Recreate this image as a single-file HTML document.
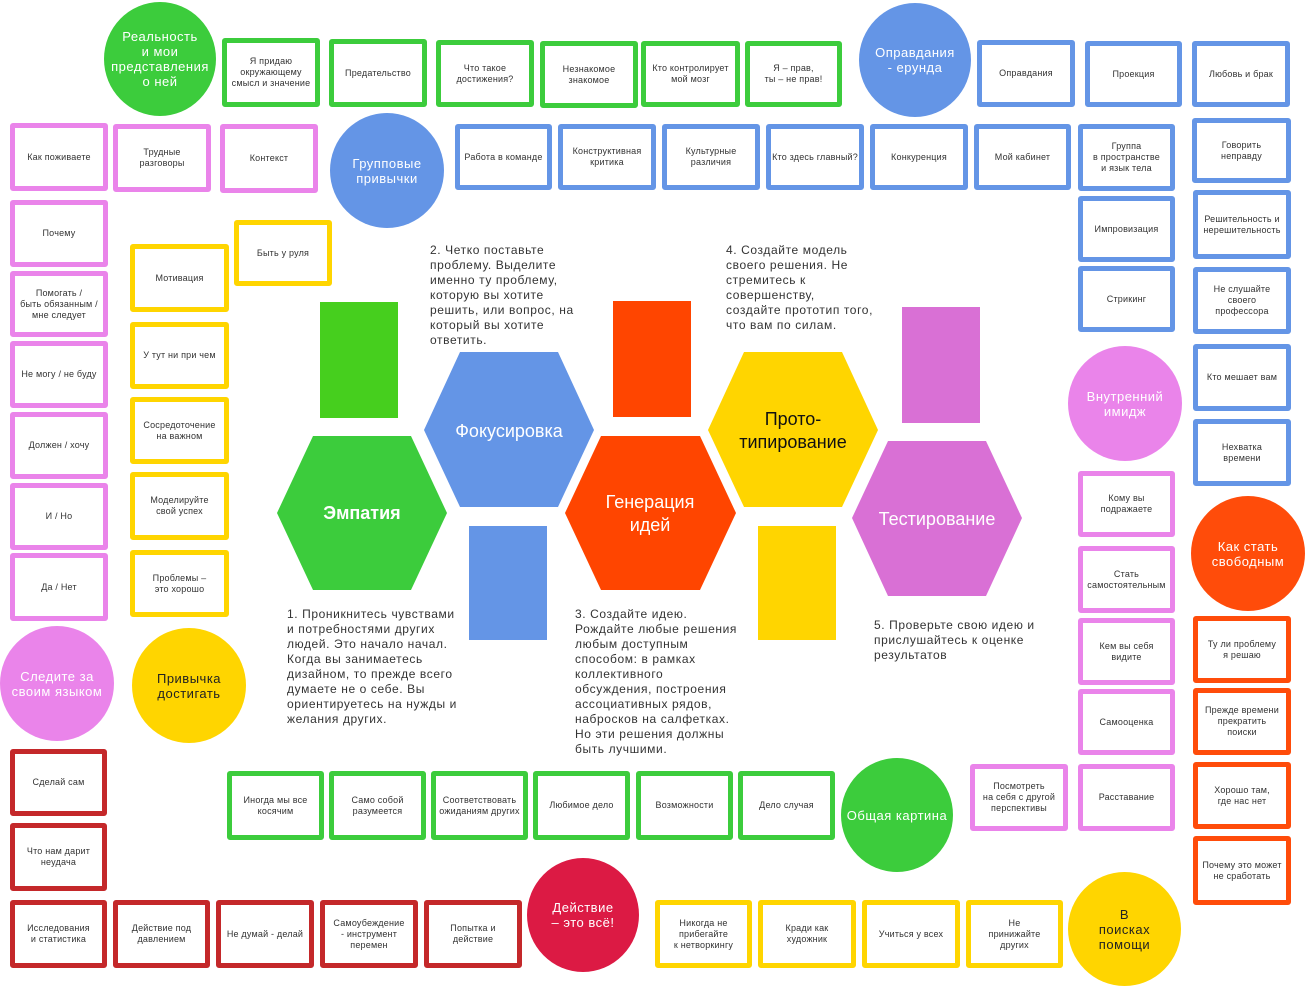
<!DOCTYPE html>
<html><head><meta charset="utf-8"><style>
body{margin:0;width:1305px;height:986px;position:relative;background:#fff;font-family:"Liberation Sans","DejaVu Sans",sans-serif;overflow:hidden}
.b{position:absolute;box-sizing:border-box;border:5px solid;border-radius:3px;display:flex;align-items:center;justify-content:center;text-align:center;font-size:9px;line-height:11px;color:#333;background:#fff;padding:0 1px;letter-spacing:0.2px}
.g{border-color:#3ccc3c}.p{border-color:#ea84ea}.u{border-color:#6495e6}.y{border-color:#ffd500}.r{border-color:#c4282a}.o{border-color:#ff4c0a}
.c{position:absolute;border-radius:50%;display:flex;align-items:center;justify-content:center;text-align:center;color:#fff;font-size:13px;line-height:15px;letter-spacing:0.5px}
.t{position:absolute;font-size:12px;line-height:15px;color:#333;letter-spacing:0.6px}
.rect{position:absolute}
</style></head><body>
<!-- circles -->
<div class="c" style="left:104px;top:2px;width:112px;height:114px;background:#3ccc3c">Реальность<br>и мои<br>представления<br>о ней</div>
<div class="c" style="left:859px;top:3px;width:112px;height:114px;background:#6495e6">Оправдания<br>- ерунда</div>
<div class="c" style="left:330px;top:113px;width:114px;height:115px;background:#6495e6">Групповые<br>привычки</div>
<div class="c" style="left:1068px;top:346px;width:114px;height:115px;background:#ea84ea">Внутренний<br>имидж</div>
<div class="c" style="left:1191px;top:496px;width:114px;height:115px;background:#ff4c0a">Как стать<br>свободным</div>
<div class="c" style="left:0px;top:626px;width:114px;height:115px;background:#ea84ea">Следите за<br>своим языком</div>
<div class="c" style="left:132px;top:628px;width:114px;height:115px;background:#ffd500;color:#222">Привычка<br>достигать</div>
<div class="c" style="left:841px;top:758px;width:112px;height:114px;background:#3ccc3c">Общая картина</div>
<div class="c" style="left:527px;top:858px;width:112px;height:114px;background:#dc1a44">Действие<br>– это всё!</div>
<div class="c" style="left:1068px;top:872px;width:113px;height:114px;background:#ffd500;color:#222">В<br>поисках<br>помощи</div>

<!-- top green -->
<div class="b g" style="left:222px;top:38px;width:98px;height:69px">Я придаю окружающему смысл и значение</div>
<div class="b g" style="left:329px;top:39px;width:98px;height:68px">Предательство</div>
<div class="b g" style="left:436px;top:40px;width:98px;height:67px">Что такое достижения?</div>
<div class="b g" style="left:540px;top:41px;width:98px;height:67px">Незнакомое знакомое</div>
<div class="b g" style="left:641px;top:41px;width:99px;height:66px">Кто контролирует мой мозг</div>
<div class="b g" style="left:745px;top:41px;width:97px;height:66px">Я – прав,<br>ты – не прав!</div>
<div class="b u" style="left:977px;top:40px;width:98px;height:67px">Оправдания</div>
<div class="b u" style="left:1085px;top:41px;width:97px;height:66px">Проекция</div>
<div class="b u" style="left:1192px;top:41px;width:98px;height:66px">Любовь и брак</div>

<!-- row 2 -->
<div class="b p" style="left:10px;top:123px;width:98px;height:68px">Как поживаете</div>
<div class="b p" style="left:113px;top:124px;width:98px;height:68px">Трудные<br>разговоры</div>
<div class="b p" style="left:220px;top:124px;width:98px;height:69px">Контекст</div>
<div class="b u" style="left:455px;top:124px;width:97px;height:66px">Работа в команде</div>
<div class="b u" style="left:558px;top:124px;width:98px;height:66px">Конструктивная критика</div>
<div class="b u" style="left:662px;top:124px;width:98px;height:66px">Культурные различия</div>
<div class="b u" style="left:766px;top:124px;width:98px;height:66px">Кто здесь главный?</div>
<div class="b u" style="left:870px;top:124px;width:98px;height:66px">Конкуренция</div>
<div class="b u" style="left:974px;top:124px;width:97px;height:66px">Мой кабинет</div>
<div class="b u" style="left:1078px;top:124px;width:97px;height:67px">Группа<br>в пространстве<br>и язык тела</div>
<div class="b u" style="left:1078px;top:196px;width:97px;height:66px">Импровизация</div>
<div class="b u" style="left:1078px;top:266px;width:97px;height:66px">Стрикинг</div>

<!-- right blue column -->
<div class="b u" style="left:1192px;top:118px;width:99px;height:65px">Говорить<br>неправду</div>
<div class="b u" style="left:1193px;top:190px;width:98px;height:69px">Решительность и нерешительность</div>
<div class="b u" style="left:1193px;top:267px;width:98px;height:67px">Не слушайте<br>своего<br>профессора</div>
<div class="b u" style="left:1193px;top:344px;width:98px;height:67px">Кто мешает вам</div>
<div class="b u" style="left:1193px;top:419px;width:98px;height:67px">Нехватка<br>времени</div>

<!-- right pink column -->
<div class="b p" style="left:1078px;top:471px;width:97px;height:66px">Кому вы подражаете</div>
<div class="b p" style="left:1078px;top:546px;width:97px;height:67px">Стать самостоятельным</div>
<div class="b p" style="left:1078px;top:618px;width:97px;height:67px">Кем вы себя видите</div>
<div class="b p" style="left:1078px;top:689px;width:97px;height:66px">Самооценка</div>
<div class="b p" style="left:1078px;top:764px;width:97px;height:67px">Расставание</div>
<div class="b p" style="left:970px;top:764px;width:98px;height:67px">Посмотреть<br>на себя с другой перспективы</div>

<!-- right orange -->
<div class="b o" style="left:1193px;top:616px;width:98px;height:67px">Ту ли проблему<br>я решаю</div>
<div class="b o" style="left:1193px;top:688px;width:98px;height:67px">Прежде времени прекратить<br>поиски</div>
<div class="b o" style="left:1193px;top:762px;width:98px;height:67px">Хорошо там,<br>где нас нет</div>
<div class="b o" style="left:1193px;top:836px;width:98px;height:69px">Почему это может не сработать</div>

<!-- left pink column -->
<div class="b p" style="left:10px;top:200px;width:98px;height:67px">Почему</div>
<div class="b p" style="left:10px;top:271px;width:98px;height:66px">Помогать /<br>быть обязанным / мне следует</div>
<div class="b p" style="left:10px;top:341px;width:98px;height:67px">Не могу / не буду</div>
<div class="b p" style="left:10px;top:412px;width:98px;height:67px">Должен / хочу</div>
<div class="b p" style="left:10px;top:483px;width:98px;height:67px">И / Но</div>
<div class="b p" style="left:10px;top:553px;width:98px;height:68px">Да / Нет</div>

<!-- yellow column -->
<div class="b y" style="left:234px;top:220px;width:98px;height:66px">Быть у руля</div>
<div class="b y" style="left:130px;top:244px;width:99px;height:68px">Мотивация</div>
<div class="b y" style="left:130px;top:322px;width:99px;height:67px">У тут ни при чем</div>
<div class="b y" style="left:130px;top:397px;width:99px;height:67px">Сосредоточение<br>на важном</div>
<div class="b y" style="left:130px;top:472px;width:99px;height:68px">Моделируйте<br>свой успех</div>
<div class="b y" style="left:130px;top:550px;width:99px;height:67px">Проблемы –<br>это хорошо</div>

<!-- left red -->
<div class="b r" style="left:10px;top:749px;width:97px;height:67px">Сделай сам</div>
<div class="b r" style="left:10px;top:823px;width:97px;height:68px">Что нам дарит<br>неудача</div>
<div class="b r" style="left:10px;top:900px;width:97px;height:68px">Исследования<br>и статистика</div>
<div class="b r" style="left:113px;top:900px;width:97px;height:68px">Действие под<br>давлением</div>
<div class="b r" style="left:216px;top:900px;width:98px;height:68px">Не думай - делай</div>
<div class="b r" style="left:320px;top:900px;width:98px;height:68px">Самоубеждение<br>- инструмент<br>перемен</div>
<div class="b r" style="left:424px;top:900px;width:98px;height:68px">Попытка и<br>действие</div>

<!-- green bottom row -->
<div class="b g" style="left:227px;top:771px;width:97px;height:69px">Иногда мы все<br>косячим</div>
<div class="b g" style="left:329px;top:771px;width:97px;height:69px">Само собой<br>разумеется</div>
<div class="b g" style="left:431px;top:771px;width:97px;height:69px">Соответствовать ожиданиям других</div>
<div class="b g" style="left:533px;top:771px;width:97px;height:69px">Любимое дело</div>
<div class="b g" style="left:636px;top:771px;width:97px;height:69px">Возможности</div>
<div class="b g" style="left:738px;top:771px;width:97px;height:69px">Дело случая</div>

<!-- yellow bottom -->
<div class="b y" style="left:655px;top:900px;width:97px;height:68px">Никогда не<br>прибегайте<br>к нетворкингу</div>
<div class="b y" style="left:758px;top:900px;width:98px;height:68px">Кради как<br>художник</div>
<div class="b y" style="left:862px;top:900px;width:98px;height:68px">Учиться у всех</div>
<div class="b y" style="left:966px;top:900px;width:97px;height:68px">Не<br>принижайте<br>других</div>

<!-- rectangles -->
<div class="rect" style="left:320px;top:302px;width:78px;height:116px;background:#46cf1e"></div>
<div class="rect" style="left:469px;top:526px;width:78px;height:114px;background:#6495e6"></div>
<div class="rect" style="left:613px;top:301px;width:78px;height:116px;background:#ff4500"></div>
<div class="rect" style="left:758px;top:526px;width:78px;height:114px;background:#ffd500"></div>
<div class="rect" style="left:902px;top:307px;width:78px;height:116px;background:#d970d5"></div>

<!-- hexagons -->
<svg style="position:absolute;left:0;top:0" width="1305" height="986">
<polygon points="277,513 313,436 411,436 447,513 411,590 313,590" fill="#3ccc3c"/>
<polygon points="424,430 460,352 558,352 594,430 558,507 460,507" fill="#6495e6"/>
<polygon points="565,513 601,436 700,436 736,513 700,590 601,590" fill="#ff4500"/>
<polygon points="708,430 744,352 842,352 878,430 842,507 744,507" fill="#ffd500"/>
<polygon points="852,518 888,441 986,441 1022,518 986,596 888,596" fill="#d970d5"/>
<g font-family="Liberation Sans, sans-serif" text-anchor="middle" font-size="18">
<text x="362" y="519" fill="#fff" font-weight="bold">Эмпатия</text>
<text x="509" y="437" fill="#fff">Фокусировка</text>
<text x="650" y="508" fill="#fff">Генерация</text>
<text x="650" y="531" fill="#fff">идей</text>
<text x="793" y="425" fill="#111">Прото-</text>
<text x="793" y="448" fill="#111">типирование</text>
<text x="937" y="525" fill="#fff">Тестирование</text>
</g>
</svg>

<!-- text blocks -->
<div class="t" style="left:430px;top:243px;width:160px">2. Четко поставьте<br>проблему. Выделите<br>именно ту проблему,<br>которую вы хотите<br>решить, или вопрос, на<br>который вы хотите<br>ответить.</div>
<div class="t" style="left:726px;top:243px;width:160px">4. Создайте модель<br>своего решения. Не<br>стремитесь к<br>совершенству,<br>создайте прототип того,<br>что вам по силам.</div>
<div class="t" style="left:287px;top:607px;width:180px">1. Проникнитесь чувствами<br>и потребностями других<br>людей. Это начало начал.<br>Когда вы занимаетесь<br>дизайном, то прежде всего<br>думаете не о себе. Вы<br>ориентируетесь на нужды и<br>желания других.</div>
<div class="t" style="left:575px;top:607px;width:180px">3. Создайте идею.<br>Рождайте любые решения<br>любым доступным<br>способом: в рамках<br>коллективного<br>обсуждения, построения<br>ассоциативных рядов,<br>набросков на салфетках.<br>Но эти решения должны<br>быть лучшими.</div>
<div class="t" style="left:874px;top:618px;width:180px">5. Проверьте свою идею и<br>прислушайтесь к оценке<br>результатов</div>
</body></html>
